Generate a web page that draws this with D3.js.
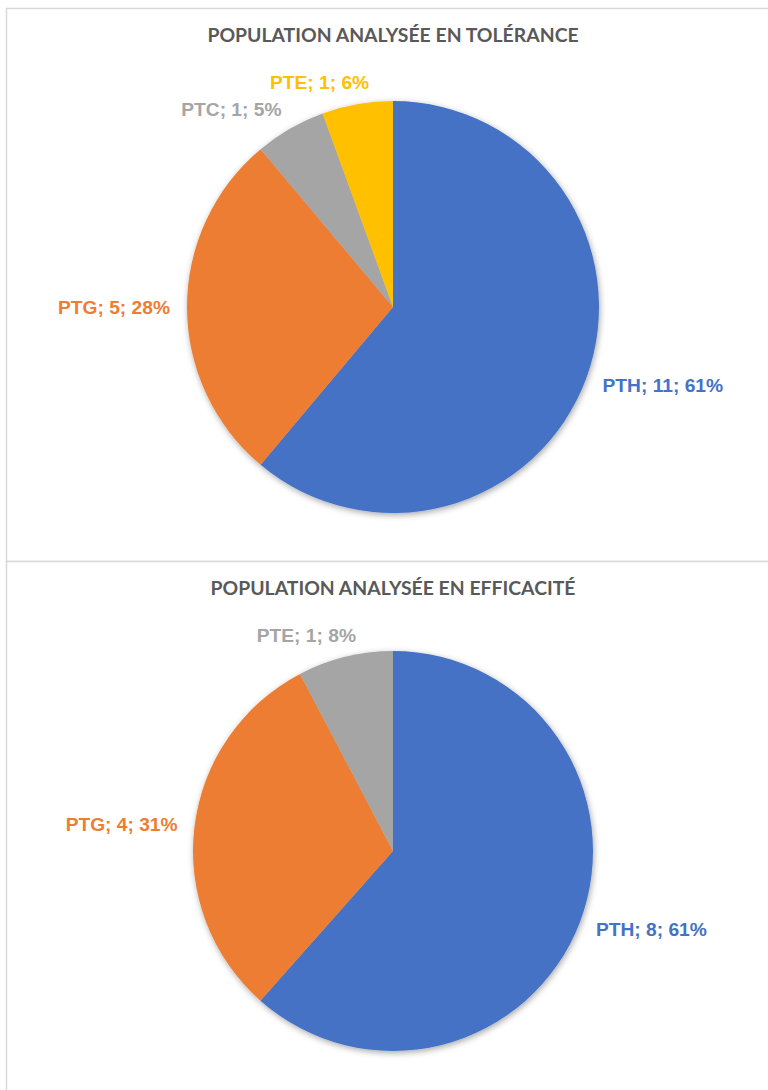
<!DOCTYPE html>
<html>
<head>
<meta charset="utf-8">
<script src="https://cdn.jsdelivr.net/npm/d3@7"></script>
<style>
  body { margin: 0; background: #fff; }
  svg { display: block; }
</style>
</head>
<body>
<div id="chart"></div>
<script>
var titles = ["POPULATION ANALYSÉE EN TOLÉRANCE", "POPULATION ANALYSÉE EN EFFICACITÉ"];

var tolCategories = ["PTH", "PTG", "PTC", "PTE"],
    tolValues     = [11, 5, 1, 1],
    tolPercents   = ["61%", "28%", "5%", "6%"],
    tolColors     = ["#4472C4", "#ED7D31", "#A5A5A5", "#FFC000"];

var effCategories = ["PTH", "PTG", "PTE"],
    effValues     = [8, 4, 1],
    effPercents   = ["61%", "31%", "8%"],
    effColors     = ["#4472C4", "#ED7D31", "#A5A5A5"];

var W = 768, H = 1090;

var svg = d3.select("#chart")
  .append("svg")
  .attr("width", W)
  .attr("height", H);

var defs = svg.append("defs");
defs.append("filter")
    .attr("id", "shadow")
    .attr("x", "-10%").attr("y", "-10%")
    .attr("width", "120%").attr("height", "120%")
  .append("feDropShadow")
    .attr("dx", 1).attr("dy", 2)
    .attr("stdDeviation", 3)
    .attr("flood-color", "#000")
    .attr("flood-opacity", 0.35);

var panels = [
  {y: 8,   h: 553, cy: 307, r: 206, title: titles[0],
   cats: tolCategories, vals: tolValues, pcts: tolPercents, colors: tolColors},
  {y: 561, h: 540, cy: 851, r: 200, title: titles[1],
   cats: effCategories, vals: effValues, pcts: effPercents, colors: effColors}
];

var cx = 393;

panels.forEach(function(p) {
  var g = svg.append("g");

  g.append("rect")
    .attr("x", 6.5).attr("y", p.y + 0.5)
    .attr("width", W).attr("height", p.h)
    .attr("fill", "#fff")
    .attr("stroke", "#D9D9D9")
    .attr("stroke-width", 1.5);

  g.append("text")
    .attr("x", cx)
    .attr("y", p.y + 27.5)
    .attr("dy", "0.35em")
    .attr("text-anchor", "middle")
    .attr("fill", "#595959")
    .style("font-family", "Lato, 'Open Sans', sans-serif")
    .style("font-weight", "bold")
    .style("font-size", "19.4px")
    .text(p.title);

  var data = p.cats.map(function(c, i) {
    return {cat: c, value: p.vals[i], pct: p.pcts[i], color: p.colors[i]};
  });

  var pie = d3.pie().sort(null).value(function(d) { return d.value; });
  var arc = d3.arc().innerRadius(0).outerRadius(p.r);
  var arcs = pie(data);

  var pg = g.append("g")
    .attr("transform", "translate(" + cx + "," + p.cy + ")");

  pg.append("g")
    .attr("filter", "url(#shadow)")
    .selectAll("path")
    .data(arcs)
    .enter().append("path")
      .attr("d", arc)
      .attr("fill", function(d) { return d.data.color; });

  // labels outside the pie, Excel "best fit" like
  var lr = p.r + 17;
  pg.selectAll("text.lbl")
    .data(arcs)
    .enter().append("text")
      .attr("class", "lbl")
      .attr("dy", "0.35em")
      .attr("fill", function(d) { return d.data.color; })
      .style("font-family", "'Liberation Sans', Arial, sans-serif")
      .style("font-weight", "bold")
      .style("font-size", "19.2px")
      .text(function(d) { return d.data.cat + "; " + d.data.value + "; " + d.data.pct; })
      .each(function(d) {
        var a = (d.startAngle + d.endAngle) / 2,
            s = Math.sin(a), c = Math.cos(a),
            w = this.getComputedTextLength(),
            f = s < -0.3 ? 1 : s > 0.3 ? 0 : (s < 0 ? 0.85 : 0.15);
        d3.select(this)
          .attr("x", lr * s - f * w)
          .attr("y", -lr * c - c * 5)
          .attr("text-anchor", "start");
      });
});
</script>
</body>
</html>
